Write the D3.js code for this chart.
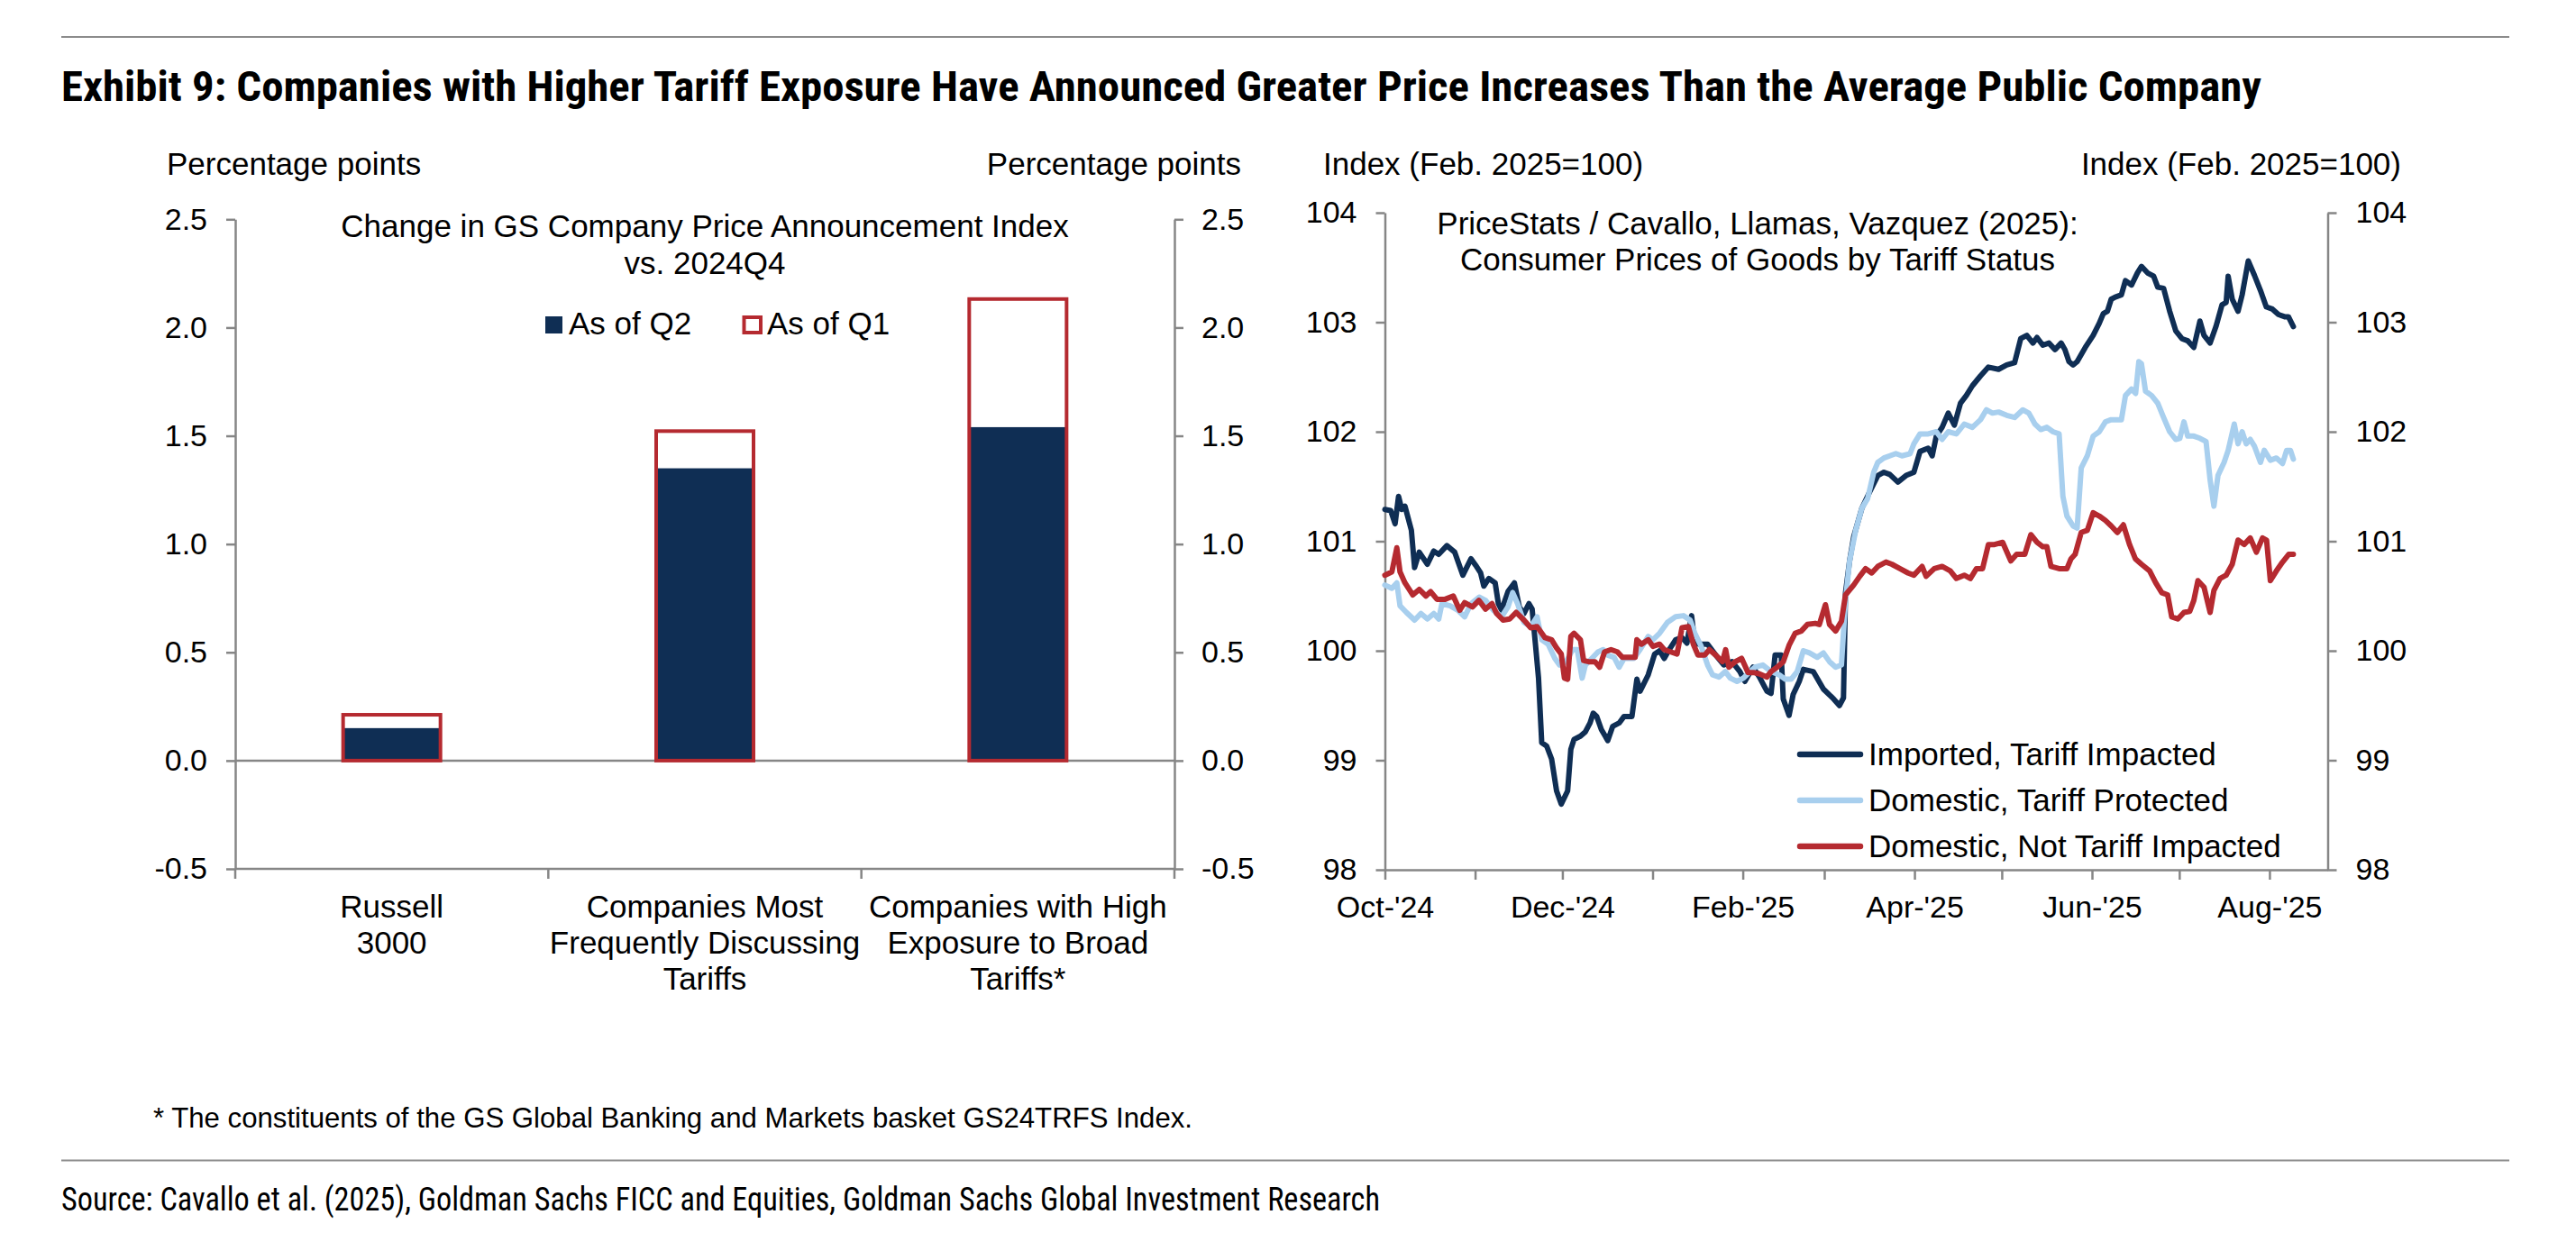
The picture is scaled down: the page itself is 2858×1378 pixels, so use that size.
<!DOCTYPE html>
<html lang="en">
<head>
  <meta charset="UTF-8">
  <title>Exhibit 9</title>
  <script src="https://d3js.org/d3.v7.min.js"></script>
  <style>
    body { margin: 0; background: #fff; }
    text { font-family: "Liberation Sans", Arial, sans-serif; fill: #000; }
    .narrow { font-family: "Liberation Sans Narrow", "Arial Narrow", "Roboto Condensed", sans-serif; }
  </style>
</head>
<body>
  <div id="viz"></div>

  <script>
    // ---- data ----
    const categories = ['Russell 3000', 'Companies Most Frequently Discussing Tariffs', 'Companies with High Exposure to Broad Tariffs*'];
    const categoryLines = [['Russell', '3000'], ['Companies Most', 'Frequently Discussing', 'Tariffs'], ['Companies with High', 'Exposure to Broad', 'Tariffs*']];
    const asOfQ2 = [0.15, 1.35, 1.54];
    const asOfQ1 = [0.22, 1.53, 2.14];
    const barTicks = [-0.5, 0, 0.5, 1.0, 1.5, 2.0, 2.5];

    const priceTicks = [98, 99, 100, 101, 102, 103, 104];
    const startDate = new Date(2024, 9, 1);   // day 0 of the series below
    const endDate = new Date(2025, 7, 21);

    // [days since 1 Oct 2024, index]
    const imported = [[0,101.29],[2,101.28],[3.5,101.16],[4.7,101.41],[5.8,101.29],[6.9,101.32],[9.1,101.10],[10.2,100.76],[11.8,100.90],[14.6,100.79],[16.8,100.91],[18.5,100.88],[21.3,100.96],[24,100.90],[26.8,100.69],[29.6,100.84],[31.2,100.78],[32.9,100.71],[34,100.59],[35.7,100.66],[37.9,100.62],[39,100.43],[40.1,100.37],[42.3,100.54],[44.5,100.62],[46.2,100.40],[47.8,100.34],[49.5,100.43],[50.6,100.38],[51.7,100.07],[52.8,99.75],[53.9,99.16],[55.6,99.13],[57.3,99.01],[59,98.72],[60.6,98.60],[62.8,98.72],[63.9,99.10],[65,99.19],[67.2,99.22],[68.9,99.26],[70.5,99.34],[71.6,99.43],[72.8,99.40],[74.4,99.28],[76.6,99.18],[78.3,99.31],[80.5,99.34],[82.2,99.40],[84.9,99.40],[86.6,99.74],[87.7,99.63],[90.5,99.78],[92.7,99.97],[94.4,100.0],[96,99.93],[97.7,100.01],[99.9,100.10],[102.1,100.12],[103.8,100.07],[105.4,100.32],[106.5,100.07],[108.2,100.06],[110.9,100.06],[113.7,99.96],[116.5,99.87],[119.3,99.90],[122,99.81],[123.7,99.72],[126.5,99.85],[128.7,99.76],[131.3,99.63],[132.7,99.61],[134.1,99.96],[136.2,99.96],[136.9,99.56],[138.9,99.41],[140.3,99.60],[142.4,99.72],[143.8,99.83],[147.2,99.81],[150.7,99.65],[154.2,99.56],[156.2,99.50],[157.6,99.57],[158.3,100.53],[159.7,100.82],[161.1,101.04],[163.9,101.30],[166.6,101.45],[169.4,101.60],[171.5,101.63],[173.5,101.61],[176.3,101.54],[179.1,101.60],[181.8,101.63],[183.9,101.82],[186.7,101.85],[188.1,101.78],[189.5,101.96],[191.5,102.04],[193.6,102.17],[195.7,102.06],[197.8,102.26],[199.8,102.33],[201.9,102.42],[204.7,102.51],[207.4,102.59],[210.9,102.57],[213.7,102.61],[216.4,102.63],[218.5,102.85],[220.6,102.88],[222.7,102.81],[224.1,102.86],[226.1,102.79],[228.2,102.81],[230.3,102.75],[232.4,102.81],[233.7,102.75],[235.1,102.64],[236.5,102.61],[237.9,102.64],[240.7,102.77],[243.4,102.88],[245.5,102.99],[246.9,103.08],[248.3,103.10],[249.6,103.21],[251,103.23],[253.1,103.25],[254.5,103.38],[256.6,103.34],[258.6,103.45],[260,103.51],[262.1,103.45],[264.2,103.42],[265.6,103.32],[267.6,103.31],[269.7,103.10],[271.8,102.92],[273.9,102.85],[275.9,102.83],[278,102.77],[280.1,103.01],[281.5,102.88],[283.6,102.81],[285.6,102.96],[287.7,103.16],[289.1,103.18],[289.8,103.42],[291.2,103.21],[293.2,103.10],[294.6,103.25],[296.7,103.56],[298.8,103.43],[300.9,103.29],[302.9,103.14],[305,103.12],[307.1,103.07],[309.2,103.05],[310.5,103.05],[312.2,102.96]];

    const domesticProtected = [[0,100.60],[2.4,100.57],[4.1,100.62],[5.2,100.41],[7.4,100.35],[10.2,100.28],[12.4,100.34],[14.6,100.29],[16.8,100.34],[18.5,100.29],[19.6,100.43],[22.4,100.41],[25.1,100.37],[27.4,100.31],[29.6,100.43],[32.4,100.49],[34.6,100.46],[37.3,100.37],[40.1,100.31],[42.3,100.40],[43.9,100.53],[45.6,100.43],[47.8,100.26],[50.1,100.22],[52.3,100.31],[53.9,100.10],[56.1,100.06],[58.4,99.93],[60,99.87],[62.3,99.90],[64.5,100.01],[66.1,100.01],[67.8,99.75],[68.9,99.87],[71.1,99.93],[73.3,99.99],[75,100.01],[76.6,99.96],[78.8,99.94],[80.5,99.85],[82.2,99.93],[85.5,99.93],[87.7,100.01],[90.5,100.13],[92.1,100.10],[94.4,100.16],[97.1,100.26],[99.9,100.31],[102.6,100.32],[104.9,100.28],[106.5,100.16],[108.7,100.04],[110.9,99.87],[112.6,99.78],[114.8,99.76],[117,99.81],[118.7,99.75],[121,99.72],[123.2,99.75],[125.1,99.80],[127.2,99.85],[129.9,99.87],[132.7,99.81],[135.5,99.78],[137.6,99.74],[139.6,99.74],[141.7,99.81],[143.8,100.0],[145.9,99.98],[148.6,99.94],[150.7,99.98],[152.8,99.90],[154.9,99.85],[156.9,99.87],[158.3,100.46],[159.7,100.82],[161.8,101.10],[163.9,101.30],[165.9,101.39],[168,101.63],[169.4,101.72],[171.5,101.76],[173.5,101.78],[175.6,101.80],[177.7,101.78],[180.5,101.80],[181.8,101.89],[183.9,101.98],[186.7,101.98],[189.5,102.0],[191.5,101.93],[193.6,102.0],[196.4,101.98],[199.1,102.07],[201.9,102.04],[204.7,102.11],[206.7,102.20],[208.8,102.17],[210.9,102.18],[213.7,102.15],[216.4,102.13],[219.2,102.20],[221.3,102.17],[223.4,102.07],[225.4,102.02],[227.5,102.04],[229.6,102.00],[231.7,101.98],[233,101.41],[234.4,101.23],[236.5,101.14],[237.9,101.12],[239.3,101.67],[241.4,101.78],[243.4,101.96],[245.5,102.0],[247.6,102.09],[249.6,102.11],[253.1,102.11],[254.5,102.33],[256.6,102.39],[258,102.35],[259.1,102.64],[260,102.62],[261.4,102.37],[263.5,102.33],[265.6,102.26],[267.6,102.13],[269.7,102.0],[271.8,101.93],[273.2,101.94],[274.6,102.09],[275.9,101.96],[278,101.96],[280.1,101.94],[282.2,101.91],[283.6,101.56],[284.9,101.32],[286.3,101.60],[288.4,101.72],[289.8,101.83],[291.9,102.07],[293.2,101.89],[294.6,102.0],[296,101.89],[297.4,101.93],[298.8,101.87],[300.9,101.72],[302.2,101.83],[304.3,101.74],[306.4,101.76],[308.5,101.71],[309.9,101.83],[311.2,101.83],[312.2,101.75]];

    const domesticNotImpacted = [[0,100.69],[2.4,100.72],[4.1,100.94],[5.2,100.72],[6.9,100.62],[9.6,100.51],[11.8,100.56],[14.1,100.50],[15.7,100.54],[17.9,100.47],[20.7,100.47],[23.5,100.50],[25.7,100.37],[27.4,100.44],[30.1,100.40],[32.3,100.46],[34.6,100.38],[36.8,100.43],[38.4,100.34],[40.6,100.28],[42.9,100.29],[45.1,100.35],[47.8,100.28],[50.1,100.21],[52.3,100.22],[55,100.12],[57.3,100.10],[58.9,100.03],[60.6,99.97],[61.7,99.75],[62.8,99.74],[63.9,100.13],[65,100.16],[67.2,100.10],[68.3,99.91],[70,99.90],[72.2,99.90],[73.8,99.85],[75.5,99.99],[77.7,100.01],[79.9,99.99],[81.6,99.94],[83.8,99.94],[86,99.94],[86.6,100.10],[88.2,100.06],[90.5,100.10],[92.1,100.04],[94.4,100.06],[96,100.01],[98.2,99.99],[100.4,99.97],[102.1,100.21],[104.3,100.22],[106,100.06],[107.6,99.96],[109.9,99.96],[111.5,100.01],[113.7,99.96],[116,99.90],[117.1,100.01],[118.2,99.85],[120.4,99.90],[122.6,99.93],[124.8,99.80],[127,99.80],[128.6,99.79],[131.3,99.76],[132.7,99.81],[134.8,99.85],[136.9,99.90],[138.9,100.05],[141,100.16],[143.1,100.18],[145.2,100.24],[147.9,100.25],[149.3,100.24],[151.4,100.42],[152.8,100.24],[154.9,100.18],[156.9,100.27],[158.3,100.51],[161.1,100.60],[163.2,100.68],[165.2,100.75],[167.3,100.71],[169.4,100.77],[172.2,100.81],[174.2,100.79],[177,100.75],[179.8,100.71],[181.8,100.69],[184.6,100.77],[186,100.68],[188.8,100.75],[191.5,100.77],[194.3,100.73],[196.4,100.66],[199.1,100.69],[201.2,100.66],[203.3,100.75],[205.4,100.75],[207.4,100.97],[209.5,100.97],[212.3,100.99],[215.1,100.82],[217.1,100.88],[219.9,100.88],[222,101.06],[224.1,100.99],[226.1,100.95],[227.5,100.95],[228.9,100.77],[231.7,100.75],[234.4,100.75],[235.8,100.84],[237.2,100.88],[239.3,101.08],[241.4,101.10],[243.4,101.26],[245.5,101.23],[247.6,101.19],[249.6,101.14],[251.7,101.08],[253.8,101.15],[255.9,100.97],[257.9,100.84],[260,100.79],[262.8,100.73],[264.9,100.62],[267,100.53],[269,100.51],[270.4,100.31],[272.5,100.29],[274.6,100.35],[276.6,100.36],[278,100.46],[279.4,100.64],[281.5,100.58],[283.6,100.35],[284.9,100.55],[287,100.66],[289.1,100.69],[291.2,100.79],[293.2,101.01],[295.3,100.97],[297.4,101.03],[299.5,100.90],[301.6,101.03],[303,101.01],[304.3,100.64],[306.4,100.73],[308.5,100.81],[310.6,100.88],[312.2,100.88]];

    const lineSeries = [
      { name: 'Imported, Tariff Impacted', values: imported, color: '#0f2e54' },
      { name: 'Domestic, Tariff Protected', values: domesticProtected, color: '#a8cfee' },
      { name: 'Domestic, Not Tariff Impacted', values: domesticNotImpacted, color: '#b52a30' }
    ];

    const navy = '#0f2e54', red = '#b52a30', grey = '#868686';

    // ---- svg ----
    const W = 2858, H = 1378;
    const svg = d3.select('#viz')
      .append('svg')
        .attr('width', W)
        .attr('height', H);

    svg.append('rect').attr('width', W).attr('height', H).attr('fill', '#fff');

    // header / footer rules
    [41, 1287.5].forEach(y => {
      svg.append('line')
        .attr('x1', 68).attr('x2', 2784)
        .attr('y1', y).attr('y2', y)
        .attr('stroke', '#8c8c8c').attr('stroke-width', 2);
    });

    // squeeze a text to a known width (condensed fonts may be missing)
    function fit(sel, w) {
      sel.attr('textLength', w).attr('lengthAdjust', 'spacingAndGlyphs');
    }

    svg.append('text')
      .attr('class', 'narrow')
      .attr('x', 68).attr('y', 112)
      .attr('font-size', 47).attr('font-weight', 'bold')
      .text('Exhibit 9: Companies with Higher Tariff Exposure Have Announced Greater Price Increases Than the Average Public Company')
      .call(fit, 2441);

    svg.append('text')
      .attr('x', 170).attr('y', 1251)
      .attr('font-size', 32)
      .text('* The constituents of the GS Global Banking and Markets basket GS24TRFS Index.')
      .call(fit, 1153);

    svg.append('text')
      .attr('class', 'narrow')
      .attr('x', 68).attr('y', 1343)
      .attr('font-size', 36).attr('fill', '#222')
      .text('Source: Cavallo et al. (2025), Goldman Sachs FICC and Equities, Goldman Sachs Global Investment Research')
      .call(fit, 1463);

    // axis unit labels
    const units = [
      { t: 'Percentage points', x: 185, a: 'start' },
      { t: 'Percentage points', x: 1377, a: 'end' },
      { t: 'Index (Feb. 2025=100)', x: 1468, a: 'start' },
      { t: 'Index (Feb. 2025=100)', x: 2664, a: 'end' }
    ];
    svg.selectAll('.unit')
      .data(units)
      .enter()
      .append('text')
        .attr('class', 'unit')
        .attr('x', d => d.x).attr('y', 194)
        .attr('text-anchor', d => d.a)
        .attr('font-size', 35)
        .text(d => d.t);

    function styleAxis(g, size) {
      g.select('.domain').attr('stroke', grey).attr('stroke-width', 2.5);
      g.selectAll('.tick line').attr('stroke', grey).attr('stroke-width', 2.5);
      g.selectAll('.tick text').attr('font-size', size).attr('fill', '#000')
        .attr('font-family', '"Liberation Sans", Arial, sans-serif');
    }

    // ================= left: bar chart =================
    const barY = d3.scaleLinear().domain([-0.5, 2.5]).range([964, 243.3]);
    const barX = d3.scaleBand()
      .domain(categories)
      .range([261, 1303])
      .paddingInner(0.6775)
      .paddingOuter(0.33875);
    const fmt1 = d => d.toFixed(1);

    svg.append('g')
      .attr('transform', 'translate(261,0)')
      .call(d3.axisLeft(barY).tickValues(barTicks).tickFormat(fmt1).tickSize(10).tickPadding(21).tickSizeOuter(0))
      .call(styleAxis, 34);
    svg.append('g')
      .attr('transform', 'translate(1303,0)')
      .call(d3.axisRight(barY).tickValues(barTicks).tickFormat(fmt1).tickSize(10).tickPadding(20).tickSizeOuter(0))
      .call(styleAxis, 34);

    // zero line
    svg.append('line')
      .attr('x1', 261).attr('x2', 1303)
      .attr('y1', barY(0)).attr('y2', barY(0))
      .attr('stroke', grey).attr('stroke-width', 2.5);

    // category axis at the bottom, ticks between the bands
    const step = barX.step();
    svg.append('line')
      .attr('x1', 261).attr('x2', 1303)
      .attr('y1', barY(-0.5)).attr('y2', barY(-0.5))
      .attr('stroke', grey).attr('stroke-width', 2.5);
    svg.selectAll('.cat-tick')
      .data(d3.range(categories.length + 1))
      .enter()
      .append('line')
        .attr('class', 'cat-tick')
        .attr('x1', i => 261 + i * step).attr('x2', i => 261 + i * step)
        .attr('y1', barY(-0.5)).attr('y2', barY(-0.5) + 11)
        .attr('stroke', grey).attr('stroke-width', 2.5);

    categories.forEach((c, i) => {
      const t = svg.append('text')
        .attr('text-anchor', 'middle')
        .attr('font-size', 35);
      categoryLines[i].forEach((ln, j) => {
        t.append('tspan')
          .attr('x', barX(c) + barX.bandwidth() / 2)
          .attr('y', 1018 + j * 40)
          .text(ln);
      });
    });

    // bars: Q2 filled, Q1 as red outline on top
    svg.selectAll('.q2')
      .data(categories)
      .enter()
      .append('rect')
        .attr('class', 'q2')
        .attr('x', d => barX(d) + 2)
        .attr('width', barX.bandwidth() - 4)
        .attr('y', (d, i) => barY(asOfQ2[i]))
        .attr('height', (d, i) => barY(0) - barY(asOfQ2[i]))
        .attr('fill', navy);
    svg.selectAll('.q1')
      .data(categories)
      .enter()
      .append('rect')
        .attr('class', 'q1')
        .attr('x', d => barX(d) + 2)
        .attr('width', barX.bandwidth() - 4)
        .attr('y', (d, i) => barY(asOfQ1[i]) + 2)
        .attr('height', (d, i) => barY(0) - barY(asOfQ1[i]) - 2)
        .attr('fill', 'none')
        .attr('stroke', red)
        .attr('stroke-width', 4);

    // chart title + legend
    svg.append('text')
      .attr('x', 782).attr('y', 263)
      .attr('text-anchor', 'middle').attr('font-size', 35)
      .text('Change in GS Company Price Announcement Index');
    svg.append('text')
      .attr('x', 782).attr('y', 303.5)
      .attr('text-anchor', 'middle').attr('font-size', 35)
      .text('vs. 2024Q4');

    svg.append('rect')
      .attr('x', 605).attr('y', 351).attr('width', 19).attr('height', 19)
      .attr('fill', navy);
    svg.append('text')
      .attr('x', 631).attr('y', 370.5).attr('font-size', 35)
      .text('As of Q2');
    svg.append('rect')
      .attr('x', 825.5).attr('y', 352).attr('width', 18.5).attr('height', 17)
      .attr('fill', '#fff').attr('stroke', red).attr('stroke-width', 4);
    svg.append('text')
      .attr('x', 851).attr('y', 370.5).attr('font-size', 35)
      .text('As of Q1');

    // ================= right: line chart =================
    const tx = d3.scaleTime().domain([startDate, endDate]).range([1536.5, 2582.5]);
    const ty = d3.scaleLinear().domain([98, 104]).range([965, 236]);
    const dayToDate = d => new Date(startDate.getTime() + d * 864e5);
    const monthFmt = d3.timeFormat("%b-'%y");

    svg.append('g')
      .attr('transform', 'translate(1536.5,0)')
      .call(d3.axisLeft(ty).tickValues(priceTicks).tickFormat(d => d).tickSize(10).tickPadding(21).tickSizeOuter(0))
      .call(styleAxis, 34);
    svg.append('g')
      .attr('transform', 'translate(2582.5,0)')
      .call(d3.axisRight(ty).tickValues(priceTicks).tickFormat(d => d).tickSize(10).tickPadding(21).tickSizeOuter(0))
      .call(styleAxis, 34);
    svg.append('g')
      .attr('transform', `translate(0,${ty(98)})`)
      .call(d3.axisBottom(tx)
        .ticks(d3.timeMonth.every(1))
        .tickFormat(d => d.getMonth() % 2 === 1 ? monthFmt(d) : '')
        .tickSize(11).tickPadding(18).tickSizeOuter(0))
      .call(styleAxis, 34);

    svg.append('text')
      .attr('x', 1950).attr('y', 259.5)
      .attr('text-anchor', 'middle').attr('font-size', 35)
      .text('PriceStats / Cavallo, Llamas, Vazquez (2025):');
    svg.append('text')
      .attr('x', 1950).attr('y', 299.5)
      .attr('text-anchor', 'middle').attr('font-size', 35)
      .text('Consumer Prices of Goods by Tariff Status');

    const line = d3.line()
      .x(d => tx(dayToDate(d[0])))
      .y(d => ty(d[1]));

    svg.selectAll('.series')
      .data(lineSeries)
      .enter()
      .append('path')
        .attr('class', 'series')
        .attr('d', d => line(d.values))
        .attr('fill', 'none')
        .attr('stroke', d => d.color)
        .attr('stroke-width', 6)
        .attr('stroke-linejoin', 'round')
        .attr('stroke-linecap', 'round');

    // legend
    const leg = svg.selectAll('.leg')
      .data(lineSeries)
      .enter()
      .append('g')
        .attr('class', 'leg')
        .attr('transform', (d, i) => `translate(0,${837 + i * 51})`);
    leg.append('line')
      .attr('x1', 1997).attr('x2', 2064)
      .attr('stroke', d => d.color)
      .attr('stroke-width', 6.5)
      .attr('stroke-linecap', 'round');
    leg.append('text')
      .attr('x', 2073).attr('y', 12)
      .attr('font-size', 35)
      .text(d => d.name);
  </script>
</body>
</html>
